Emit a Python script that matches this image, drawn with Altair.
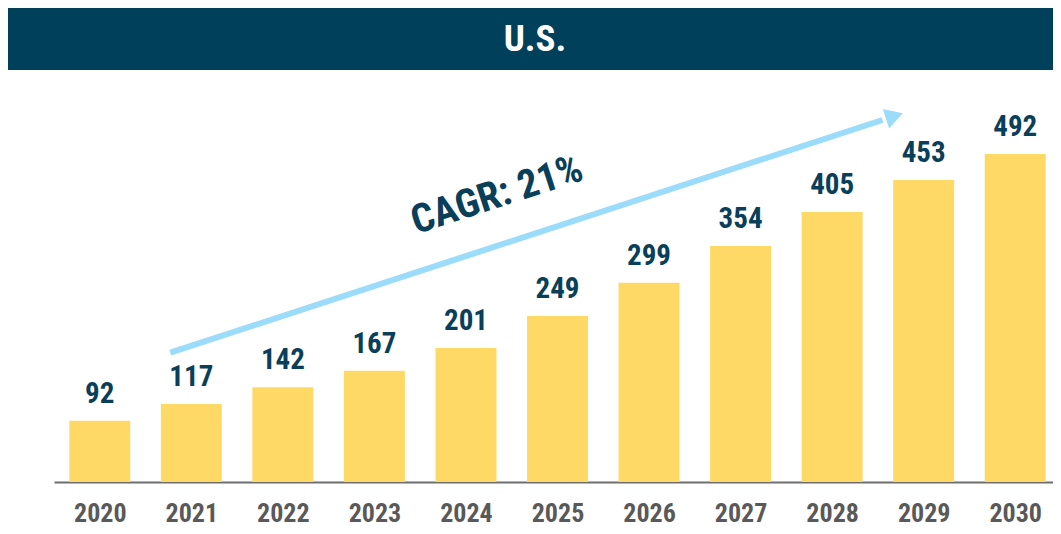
import altair as alt
import pandas as pd

years = [2020, 2021, 2022, 2023, 2024, 2025, 2026, 2027, 2028, 2029, 2030]
values = [92, 117, 142, 167, 201, 249, 299, 354, 405, 453, 492]

title_text = "U.S."
cagr_text = "CAGR: 21%"
cagr_pos = [2024.34, 430]
arrow_start = [2020.77, 194]
arrow_end = [2028.55, 543]
arrow_tip = [2028.68, 549]

FONT = "Liberation Sans Narrow, Roboto Condensed, Arial Narrow, Roboto, sans-serif"
DARK = "#0A3F5A"
HEADER = "#00405A"
BAR = "#FFD966"
ARROW = "#9BDCFB"

W, H = 999, 404
XR = 1007

df = pd.DataFrame({"year": years, "value": values})
df["x0"] = df["year"] - 0.333
df["x1"] = df["year"] + 0.333
df["base"] = 0

xscale = alt.Scale(domain=[2019.5, 2030.5], range=[0, XR], nice=False, zero=False)
yscale = alt.Scale(domain=[0, 606], nice=False)

xaxis = alt.Axis(
    values=years, format="d", title=None, ticks=False, grid=False,
    labelFont=FONT, labelFontSize=26, labelFontWeight="bold", labelColor="#595959",
    labelPadding=18, domainColor="#6E6E6E", domainWidth=2,
)

base = alt.Chart(df)

bars = base.mark_bar(color=BAR).encode(
    x=alt.X("x0:Q", scale=xscale, axis=xaxis),
    x2="x1:Q",
    y=alt.Y("value:Q", scale=yscale, axis=None),
    y2="base:Q",
)

labels = base.mark_text(
    font=FONT, fontSize=29, fontWeight="bold", color=DARK, baseline="alphabetic", dy=-18
).encode(
    x=alt.X("year:Q", scale=xscale),
    y=alt.Y("value:Q", scale=yscale),
    text="value:Q",
)

arrow_df = pd.DataFrame({"x": [arrow_start[0], arrow_end[0]], "y": [arrow_start[1], arrow_end[1]]})
arrow_line = alt.Chart(arrow_df).mark_line(color=ARROW, strokeWidth=6).encode(
    x=alt.X("x:Q", scale=xscale),
    y=alt.Y("y:Q", scale=yscale),
)

tip_df = pd.DataFrame({"x": [arrow_tip[0]], "y": [arrow_tip[1]]})
arrow_head = alt.Chart(tip_df).mark_point(
    shape="triangle-right", filled=True, color=ARROW, opacity=1, size=420, angle=342
).encode(
    x=alt.X("x:Q", scale=xscale),
    y=alt.Y("y:Q", scale=yscale),
)

cagr_df = pd.DataFrame({"x": [cagr_pos[0]], "y": [cagr_pos[1]], "t": [cagr_text]})
cagr = alt.Chart(cagr_df).mark_text(
    font=FONT, fontSize=40, fontWeight="bold", color=DARK, angle=342,
    align="center", baseline="middle"
).encode(
    x=alt.X("x:Q", scale=xscale),
    y=alt.Y("y:Q", scale=yscale),
    text="t:N",
)

hdr_df = pd.DataFrame({"t": [title_text]})
header = alt.Chart(hdr_df).mark_rect(color=HEADER).encode(
    x=alt.value(-48), x2=alt.value(XR), y=alt.value(-70), y2=alt.value(-8)
)
header_text = alt.Chart(hdr_df).mark_text(
    font=FONT, fontSize=37, fontWeight="bold", color="white", align="center", baseline="middle"
).encode(
    x=alt.value(481), y=alt.value(-38), text="t:N"
)

chart = alt.layer(header, header_text, bars, labels, arrow_line, arrow_head, cagr).properties(
    width=W, height=H,
    background="white",
    autosize=alt.AutoSizeParams(type="none"),
    padding={"left": 46, "top": 70, "right": 0, "bottom": 44},
).configure_view(strokeWidth=0, stroke=None)

chart.save("out.html", embed_options={"renderer": "svg", "actions": False})
